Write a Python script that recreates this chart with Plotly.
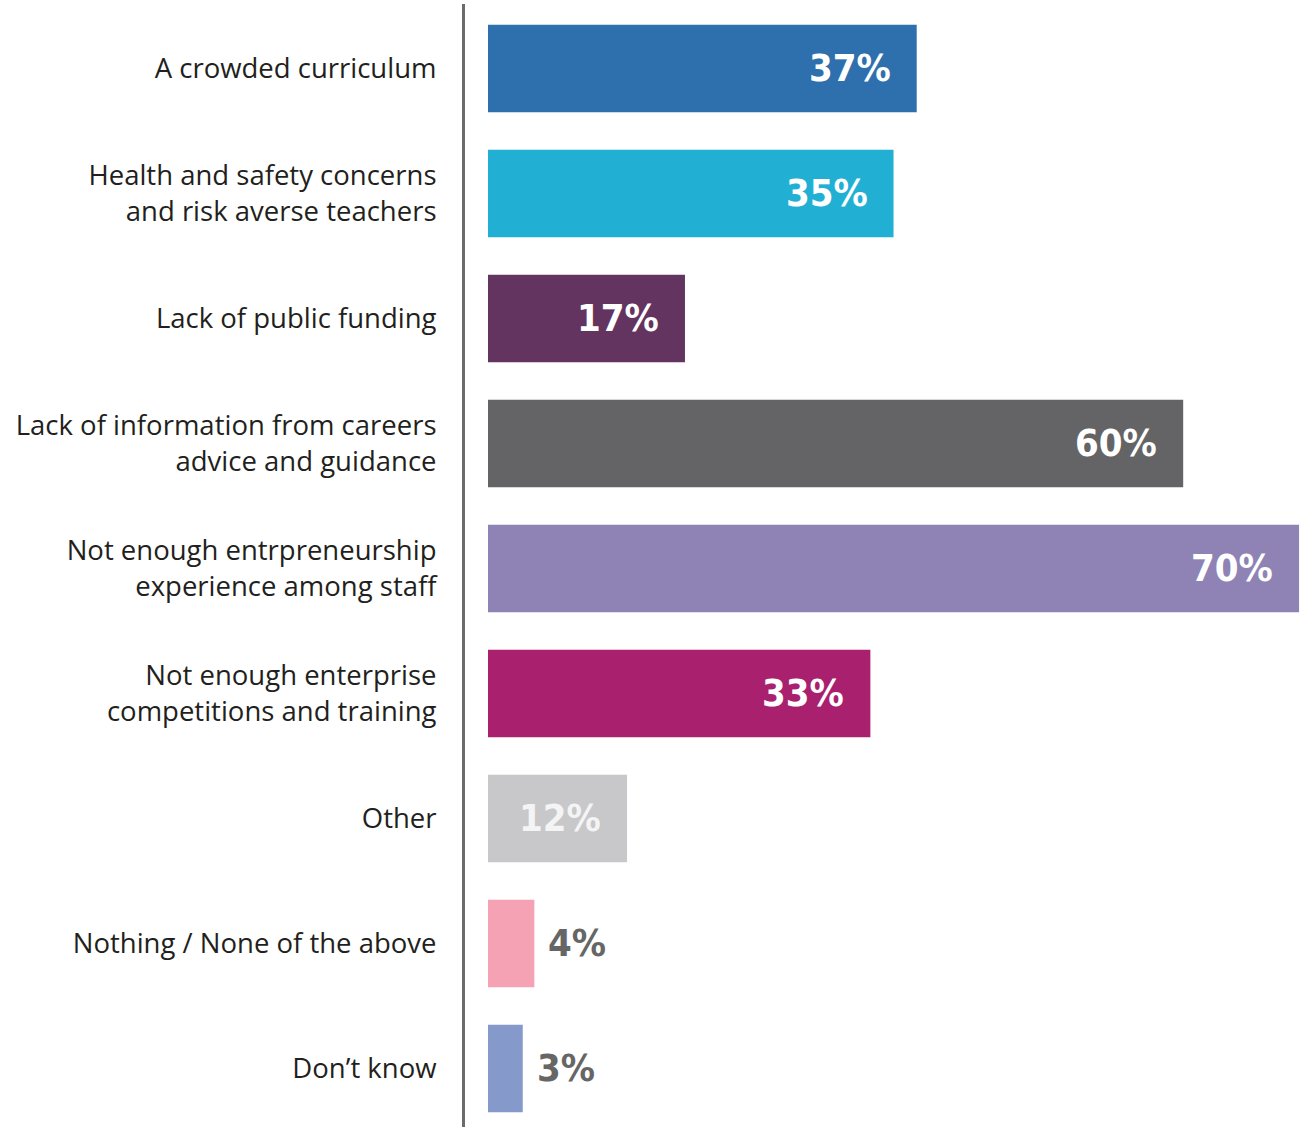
import plotly.graph_objects as go

categories = [
    "A crowded curriculum",
    "Health and safety concerns<br>and risk averse teachers",
    "Lack of public funding",
    "Lack of information from careers<br>advice and guidance",
    "Not enough entrpreneurship<br>experience among staff",
    "Not enough enterprise<br>competitions and training",
    "Other",
    "Nothing / None of the above",
    "Don\u2019t know",
]
values = [37, 35, 17, 60, 70, 33, 12, 4, 3]
colors = ["#2e6fad", "#21afd4", "#62345f", "#646466", "#8e83b4",
          "#a9206e", "#c8c8ca", "#f4a2b4", "#8699cb"]
label_inside = [True, True, True, True, True, True, True, False, False]
label_colors = ["#ffffff", "#ffffff", "#ffffff", "#ffffff", "#ffffff",
                "#ffffff", "#f4f4f4", "#666666", "#666666"]

fig = go.Figure()
fig.add_trace(go.Bar(
    y=categories, x=values, orientation="h",
    marker=dict(color=colors, line=dict(width=0)),
    width=0.7, hoverinfo="skip",
))

for cat, v, inside, lc in zip(categories, values, label_inside, label_colors):
    fig.add_annotation(
        x=v, y=cat, xref="x", yref="y",
        text=f"{v}%", showarrow=False,
        xanchor="right" if inside else "left",
        xshift=-24 if inside else 12,
        yshift=1,
        font=dict(family="'DejaVu Sans Condensed', 'Liberation Sans Narrow', 'Arial Narrow', sans-serif",
                  size=38, color=lc, weight="bold"),
    )

fig.update_layout(
    width=1303, height=1127,
    margin=dict(l=465, r=0, t=4, b=0),
    paper_bgcolor="white", plot_bgcolor="white",
    showlegend=False,
    xaxis=dict(range=[-1.985, 70.34], visible=False),
    yaxis=dict(
        range=[8.468, -0.516], type="category",
        showline=True, linecolor="#6b6b6b", linewidth=3,
        showgrid=False, zeroline=False, ticks="",
        ticklabelstandoff=20,
        tickfont=dict(family="Open Sans", size=27.5, color="#231f20"),
    ),
)

fig.write_html("out.html")
